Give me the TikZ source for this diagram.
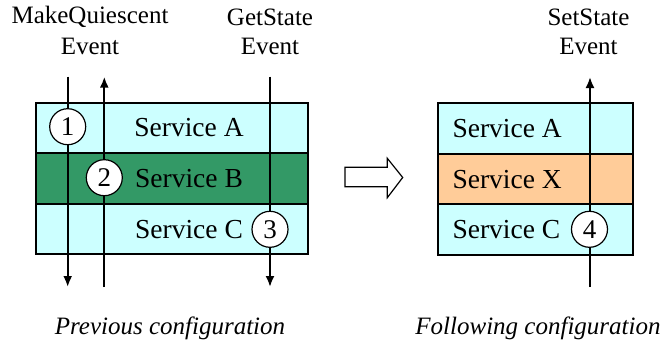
\documentclass[tikz,border=0pt]{standalone}
\usepackage{fontspec}
\setmainfont{Liberation Serif}
\usetikzlibrary{arrows.meta}
\definecolor{svcCyan}{HTML}{CCFFFF}
\definecolor{svcGreen}{HTML}{339966}
\definecolor{svcPeach}{HTML}{FFCC99}
\begin{document}
\begin{tikzpicture}[x=1pt,y=-1pt,
  every node/.style={font=\fontsize{25}{28}\selectfont},
  row/.style={draw=black,line width=1.8pt,inner sep=0pt,anchor=north west},
  lbl/.style={inner sep=0pt,anchor=center},
  svc/.style={inner sep=0pt,font=\fontsize{27.5}{30}\selectfont},
  num/.style={circle,draw=black,fill=white,line width=1.2pt,minimum size=36pt,inner sep=0pt,
              font=\fontsize{27}{30}\selectfont},
  evt/.style={line width=2pt,-{Latex[length=11pt,width=9pt]}}]
\useasboundingbox (0,0) rectangle (662,348);

% previous configuration: three stacked services
\node[row,fill=svcCyan,minimum width=272pt,minimum height=50.6pt] (pa) at (34.7,101.7) {};
\node[row,fill=svcGreen,minimum width=272pt,minimum height=50.4pt] (pb) at (34.7,152.3) {};
\node[row,fill=svcCyan,minimum width=272pt,minimum height=50.6pt] (pc) at (34.7,202.7) {};
\node[svc] (tpa) at (189,128) {Service A};
\node[svc] (tpb) at (189,179) {Service B};
\node[svc] (tpc) at (189,230) {Service C};

% event lines of the previous configuration
\coordinate (e1t) at (67.7,76.7);  \coordinate (e1b) at (67.7,287);
\coordinate (e2t) at (104.3,76.7); \coordinate (e2b) at (104.3,287);
\coordinate (e3t) at (270,76.7);   \coordinate (e3b) at (270,287);
\draw[evt] (e1t) -- (e1b);
\draw[evt] (e2b) -- (e2t);
\draw[evt] (e3t) -- (e3b);
\node[num] (n1) at (67.7,126.7) {1};
\node[num] (n2) at (104.3,177.7) {2};
\node[num] (n3) at (270,229.3) {3};

\node[lbl] (mq) at (90,17) {MakeQuiescent};
\node[lbl] (mqe) at (90,46) {Event};
\node[lbl] (gs) at (270,17) {GetState};
\node[lbl] (gse) at (270,46) {Event};

% transition arrow (outlined block arrow)
\draw[line width=1.2pt,fill=white] (345,167.3) -- (387.3,167.3) -- (387.3,158.3)
  -- (402.7,177.5) -- (387.3,197.7) -- (387.3,186.7) -- (345,186.7) -- cycle;

% following configuration
\node[row,fill=svcCyan,minimum width=194.4pt,minimum height=51pt] (fa) at (437.3,102.3) {};
\node[row,fill=svcPeach,minimum width=194.4pt,minimum height=49.4pt] (fx) at (437.3,153.3) {};
\node[row,fill=svcCyan,minimum width=194.4pt,minimum height=51.3pt] (fc) at (437.3,202.7) {};
\node[svc,anchor=west] (tfa) at (452.3,129) {Service A};
\node[svc,anchor=west] (tfx) at (452.3,180) {Service X};
\node[svc,anchor=west] (tfc) at (452.3,230) {Service C};

\coordinate (e4t) at (590,77); \coordinate (e4b) at (590,287);
\draw[evt] (e4b) -- (e4t);
\node[num] (n4) at (589.5,229.3) {4};

\node[lbl] (ss) at (588.5,17) {SetState};
\node[lbl] (sse) at (588.5,46) {Event};

% captions
\node[lbl,font=\fontsize{25}{28}\selectfont\itshape] (cap1) at (170,328) {Previous configuration};
\node[lbl,font=\fontsize{25}{28}\selectfont\itshape] (cap2) at (538,328) {Following configuration};
\end{tikzpicture}
\end{document}
